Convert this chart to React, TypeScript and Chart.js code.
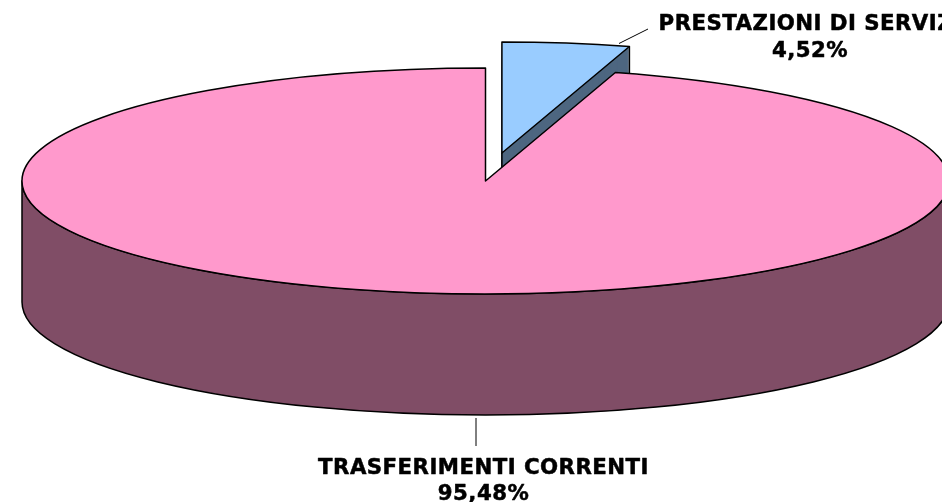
import React, { useEffect, useRef } from "react";
import { Chart, registerables } from "chart.js";

Chart.register(...registerables);

const categories = ["PRESTAZIONI DI SERVIZI", "TRASFERIMENTI CORRENTI"];
const shares = [4.52, 95.48];
const shareLabels = ["4,52%", "95,48%"];
const topColors = ["#99CCFF", "#FF99CC"];
const sideColors = ["#4D6680", "#804D66"];
const pullOut = [116, 0];
const sliceRadii = [455, 463.5];

const RADIUS = 463.5;
const SQUASH = 113 / 463.5;
const DEPTH = 121;
const PIE_Y = 181;

function tilt(ctx: CanvasRenderingContext2D) {
  ctx.translate(0, PIE_Y);
  ctx.scale(1, SQUASH);
  ctx.translate(0, -PIE_Y);
}
function sectorPath(ctx: CanvasRenderingContext2D, el: any, dy: number) {
  ctx.save();
  ctx.translate(0, dy);
  tilt(ctx);
  ctx.beginPath();
  ctx.moveTo(el.x, el.y);
  ctx.arc(el.x, el.y, el.outerRadius, el.startAngle, el.endAngle);
  ctx.closePath();
  ctx.restore();
}
function flat(el: any, angle: number | null) {
  const a = angle === null ? 0 : el.outerRadius;
  const t = angle === null ? 0 : angle;
  return {
    x: el.x + Math.cos(t) * a,
    y: PIE_Y + (el.y + Math.sin(t) * a - PIE_Y) * SQUASH,
  };
}

const pie3d = {
  id: "pie3d",
  afterDatasetUpdate(chart: any) {
    chart.getDatasetMeta(0).data.forEach((el: any, i: number) => {
      const mid = (el.startAngle + el.endAngle) / 2;
      el.x += Math.cos(mid) * pullOut[i];
      el.y += Math.sin(mid) * pullOut[i];
      el.outerRadius = sliceRadii[i];
    });
  },
  beforeDatasetsDraw(chart: any) {
    const ctx: CanvasRenderingContext2D = chart.ctx;
    const [slice, main] = chart.getDatasetMeta(0).data;
    ctx.save();
    ctx.lineWidth = 1.5;
    ctx.strokeStyle = "#000";
    ctx.lineJoin = "round";

    // wall of the pulled-out slice
    ctx.fillStyle = sideColors[0];
    for (let d = DEPTH; d > 0; d--) {
      sectorPath(ctx, slice, d);
      ctx.fill();
    }
    const apex = flat(slice, null);
    const rim = flat(slice, slice.endAngle);
    ctx.beginPath();
    ctx.moveTo(apex.x, apex.y);
    ctx.lineTo(apex.x, apex.y + DEPTH);
    ctx.moveTo(rim.x, rim.y);
    ctx.lineTo(rim.x, rim.y + DEPTH);
    ctx.stroke();

    // wall of the main body
    const ry = main.outerRadius * SQUASH;
    ctx.fillStyle = sideColors[1];
    ctx.beginPath();
    ctx.ellipse(main.x, main.y, main.outerRadius, ry, 0, 0, Math.PI);
    ctx.ellipse(main.x, main.y + DEPTH, main.outerRadius, ry, 0, Math.PI, 0, true);
    ctx.closePath();
    ctx.fill();
    ctx.stroke();
    ctx.restore();

    ctx.save();
    tilt(ctx);
  },
  afterDatasetsDraw(chart: any) {
    const ctx: CanvasRenderingContext2D = chart.ctx;
    ctx.restore();
    const [slice, main] = chart.getDatasetMeta(0).data;
    ctx.save();
    ctx.lineWidth = 1.5;
    ctx.strokeStyle = "#000";
    ctx.lineJoin = "round";
    sectorPath(ctx, slice, 0);
    ctx.stroke();
    sectorPath(ctx, main, 0);
    ctx.stroke();

    // leader lines
    ctx.lineWidth = 1;
    ctx.beginPath();
    ctx.moveTo(619, 43.5);
    ctx.lineTo(648, 29);
    ctx.moveTo(476, 418);
    ctx.lineTo(476, 446);
    ctx.stroke();

    // labels
    ctx.fillStyle = "#000";
    ctx.lineWidth = 0.5;
    ctx.font = 'bold 21.3px "DejaVu Sans"';
    (ctx as any).letterSpacing = "0.45px";
    ctx.textAlign = "center";
    ctx.textBaseline = "alphabetic";
    const places = [
      { x: 810, y1: 30, y2: 56.5 },
      { x: 483.5, y1: 474, y2: 499.5 },
    ];
    categories.forEach((name, i) => {
      ctx.fillText(name, places[i].x, places[i].y1);
      ctx.strokeText(name, places[i].x, places[i].y1);
      ctx.fillText(shareLabels[i], places[i].x, places[i].y2);
      ctx.strokeText(shareLabels[i], places[i].x, places[i].y2);
    });
    ctx.restore();
  },
};

export default function App() {
  const ref = useRef<HTMLCanvasElement>(null);
  useEffect(() => {
    const chart = new Chart(ref.current!, {
      type: "pie",
      data: {
        labels: categories,
        datasets: [
          {
            data: shares,
            backgroundColor: topColors,
            borderWidth: 0,
            radius: RADIUS,
            clip: false,
          } as any,
        ],
      },
      options: {
        responsive: false,
        animation: false,
        layout: { padding: { left: 29, bottom: 140 } },
        plugins: { legend: { display: false }, tooltip: { enabled: false } },
      } as any,
      plugins: [pie3d],
    });
    return () => chart.destroy();
  }, []);
  return (
    <>
      <style>{"body{margin:0;background:#fff}canvas{display:block}"}</style>
      <canvas ref={ref} width={942} height={502} />
    </>
  );
}
